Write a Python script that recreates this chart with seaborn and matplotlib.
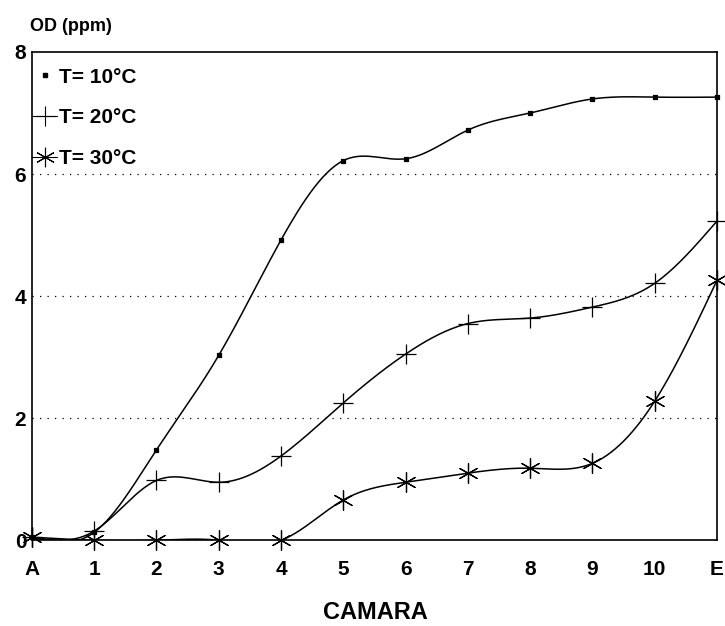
### OD vs camara at three temperatures
# import statements
import matplotlib
matplotlib.use('Agg')
import matplotlib.pyplot as plt
from matplotlib.lines import Line2D
import numpy as np
import pandas as pd
import seaborn as sns

# data
camaras   = ['A', '1', '2', '3', '4', '5', '6', '7', '8', '9', '10', 'E']
od_10c    = [0.05, 0.13, 1.48, 3.03, 4.92, 6.22, 6.25, 6.72, 7.00, 7.23, 7.26, 7.26]
od_20c    = [0.05, 0.15, 0.98, 0.95, 1.38, 2.25, 3.05, 3.55, 3.64, 3.82, 4.21, 5.23]
od_30c    = [0.05, 0.00, 0.00, 0.00, 0.00, 0.66, 0.95, 1.10, 1.18, 1.26, 2.28, 4.26]
series    = ['T= 10°C', 'T= 20°C', 'T= 30°C']

# natural cubic spline, used only to draw the smooth line through the points
def spline(y, n = 30):
    y = np.asarray(y, dtype = float)
    k = len(y)
    A = np.zeros((k, k))
    b = np.zeros(k)
    A[0, 0] = A[-1, -1] = 1
    for i in range(1, k - 1):
        A[i, i - 1], A[i, i], A[i, i + 1] = 1, 4, 1
        b[i] = 6 * (y[i + 1] - 2 * y[i] + y[i - 1])
    m = np.linalg.solve(A, b)
    xs, ys = [], []
    for i in range(k - 1):
        t = np.linspace(0, 1, n, endpoint = False)
        ys.append((1 - t) * y[i] + t * y[i + 1]
                  + ((1 - t) ** 3 - (1 - t)) * m[i] / 6
                  + (t ** 3 - t) * m[i + 1] / 6)
        xs.append(i + t)
    xs.append([k - 1.0])
    ys.append([y[-1]])
    return np.concatenate(xs), np.concatenate(ys)

# build tidy frames for seaborn
x_idx = np.arange(len(camaras))
points = pd.DataFrame({'x': np.tile(x_idx, 3),
                       'od': od_10c + od_20c + od_30c,
                       'serie': np.repeat(series, len(camaras))})
curves = []
for name, vals in zip(series, [od_10c, od_20c, od_30c]):
    cx, cy = spline(vals)
    curves.append(pd.DataFrame({'x': cx, 'od': cy, 'serie': name}))
curves = pd.concat(curves)

sns.set_style('white')
plt.rcParams['font.family'] = ['Liberation Sans', 'DejaVu Sans']
plt.rcParams['font.weight'] = 'bold'
plt.rcParams['text.color'] = 'black'
plt.rcParams['xtick.color'] = 'black'
plt.rcParams['ytick.color'] = 'black'

fig = plt.figure(figsize = (7.25, 6.26), dpi = 100)
ax = fig.add_axes([0.044, 0.137, 0.945, 0.78])

# lines
sns.lineplot(data = curves, x = 'x', y = 'od', units = 'serie',
             estimator = None, color = 'black', linewidth = 1.1,
             sort = False, ax = ax, legend = False)

# markers per series
markers = {'T= 10°C': 's', 'T= 20°C': '+', 'T= 30°C': (6, 2, 0)}
sizes   = {'T= 10°C': 12, 'T= 20°C': 200, 'T= 30°C': 200}
for name in series:
    sub = points[points.serie == name]
    sns.scatterplot(data = sub, x = 'x', y = 'od', marker = markers[name],
                    s = sizes[name], color = 'black', linewidth = 0.9,
                    edgecolor = 'black', ax = ax, legend = False, zorder = 3,
                    clip_on = False)

# grid and axes
for yv in [2, 4, 6]:
    ax.axhline(yv, color = 'black', linestyle = (0, (1, 5)), linewidth = 0.9)
ax.set_xlim(0, len(camaras) - 1)
ax.set_ylim(0, 8)
ax.set_xticks(x_idx)
ax.set_xticklabels(camaras, fontsize = 15, fontweight = 'bold')
ax.set_yticks([0, 2, 4, 6, 8])
ax.set_yticklabels(['0', '2', '4', '6', '8'], fontsize = 15,
                   fontweight = 'bold')
ax.tick_params(axis = 'x', direction = 'in', length = 6, width = 0.8, pad = 14)
ax.tick_params(axis = 'y', direction = 'in', length = 0, pad = 4)
for sp in ax.spines.values():
    sp.set_linewidth(1.2)
    sp.set_color('black')
ax.set_xlabel('')
ax.set_ylabel('')

# texts
fig.text(0.042, 0.958, 'OD (ppm)', fontsize = 13, fontweight = 'bold',
         ha = 'left', va = 'center')
fig.text(0.518, 0.021, 'CAMARA', fontsize = 17, fontweight = 'bold',
         ha = 'center', va = 'center')

# legend
handles = [Line2D([], [], color = 'black', marker = 's', markersize = 3,
                  linestyle = 'none'),
           Line2D([], [], color = 'black', marker = '+', markersize = 14,
                  linewidth = 0.8, markeredgewidth = 0.8),
           Line2D([], [], color = 'black', marker = (6, 2, 0),
                  markersize = 14, linewidth = 0.8, markeredgewidth = 0.8)]
ax.legend(handles, series, loc = 'upper left', frameon = False,
          handlelength = 1.2, handletextpad = 0.1,
          borderaxespad = 0.0, labelspacing = 1.05,
          bbox_to_anchor = (-0.012, 0.985),
          prop = {'weight': 'bold', 'size': 15})

fig.savefig('out.png', dpi = 100)
